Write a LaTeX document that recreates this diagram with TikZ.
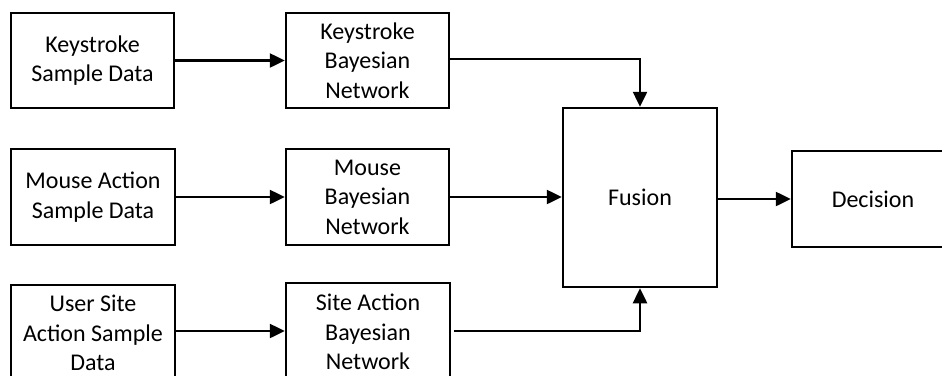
\documentclass[tikz,border=0pt]{standalone}
\usepackage{fontspec}
\setmainfont{Carlito}
\usetikzlibrary{arrows.meta}
\begin{document}
\begin{tikzpicture}[x=1pt,y=-1pt,
  block/.style={draw, line width=2.5pt, align=center, inner sep=0pt,
    font=\fontsize{24}{29.5}\selectfont},
  flow/.style={line width=2.5pt, -{Triangle[length=15pt,width=14pt]}}]
\useasboundingbox (0,0) rectangle (942,375);
\clip (0,0) rectangle (942,375);

% input data sources
\node[block, minimum width=163pt, minimum height=95pt] (ks) at (92.5,60.5) {Keystroke\\Sample Data};
\node[block, minimum width=164pt, minimum height=96pt] (ms) at (93,197) {Mouse Action\\Sample Data};
\node[block, minimum width=164pt, minimum height=96pt] (us) at (93,333) {User Site\\Action Sample\\Data};

% per-source Bayesian networks
\node[block, minimum width=163pt, minimum height=95pt] (kbn) at (367.5,60.5) {Keystroke\\Bayesian\\Network};
\node[block, minimum width=163pt, minimum height=96pt] (mbn) at (367.5,197) {Mouse\\Bayesian\\Network};
\node[block, minimum width=164pt, minimum height=98pt] (sbn) at (368,332) {Site Action\\Bayesian\\Network};

% fusion and decision
\node[block, minimum width=154pt, minimum height=179pt] (fusion) at (640,197.5) {Fusion};
\node[block, minimum width=162pt, minimum height=96pt] (decision) at (873,199) {Decision};

% connectors
\draw[flow] (ks.east) -- (kbn.west);
\draw[flow] (ms.east) -- (ms.east -| mbn.west);
\draw[flow] ([yshift=2pt]us.east) -- ([yshift=2pt]us.east -| sbn.west);

\draw[flow] ([yshift=1.5pt]kbn.east) -| (fusion.north);
\draw[flow] (mbn.east) -- (mbn.east -| fusion.west);
\draw[flow] ([xshift=3pt,yshift=1pt]sbn.east) -| (fusion.south);

\draw[flow] (fusion.east |- decision.west) -- (decision.west);
\end{tikzpicture}
\end{document}
